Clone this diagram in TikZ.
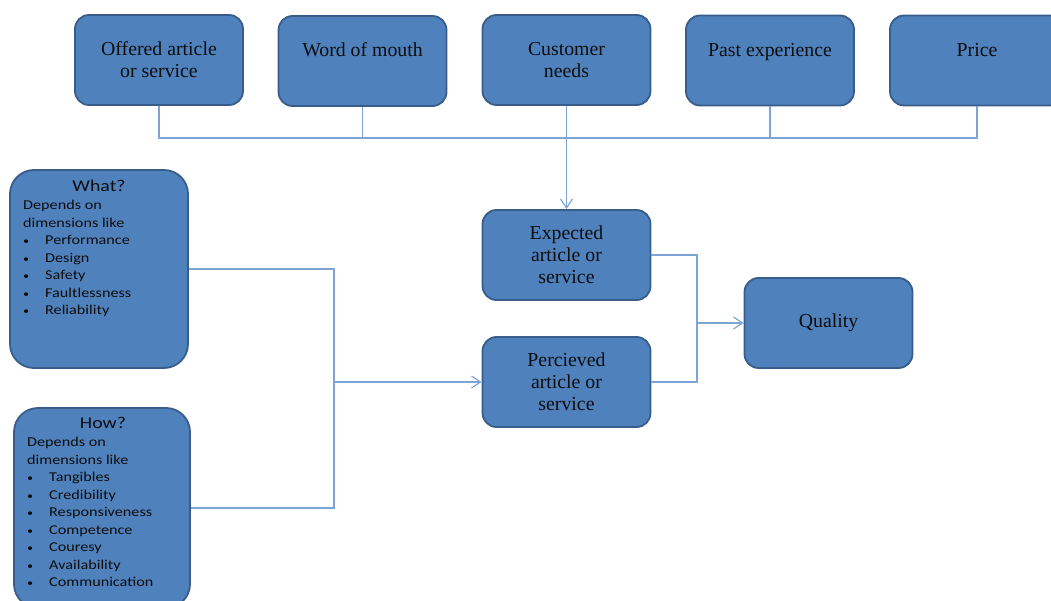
\documentclass[tikz,border=0pt]{standalone}
\usepackage{fontspec}
\setmainfont{Liberation Serif}
\newfontfamily\listfont[FakeStretch=1.2]{Carlito}
\usetikzlibrary{arrows.meta,calc}
\definecolor{boxfill}{HTML}{4F81BD}
\definecolor{boxedge}{HTML}{385D8A}
\definecolor{linkblue}{HTML}{7EA4D6}
\definecolor{ink}{HTML}{0D0D0D}
\tikzset{
  box/.style={draw=boxedge, fill=boxfill, line width=1.8pt, rounded corners=14pt,
    minimum width=168pt, minimum height=90pt, align=center,
    font=\fontsize{19.8}{22}\selectfont, text=ink},
  bigbox/.style={draw=boxedge, fill=boxfill, line width=1.8pt, rounded corners=24pt},
  conn/.style={draw=linkblue, line width=1.2pt},
  arr/.style={conn, -{Straight Barb[length=9pt,width=12pt,line width=1.2pt]}},
  title/.style={font=\listfont\fontsize{16.5}{19}\selectfont, text=ink},
  items/.style={font=\listfont\fontsize{13.5}{17.5}\selectfont, text=ink,
    align=left, inner sep=0pt, anchor=north west}
}
\newcommand{\itm}[1]{\makebox[22pt][l]{\scalebox{0.75}{\textbullet}}#1}
\begin{document}
\begin{tikzpicture}[x=1pt,y=-1pt]
\useasboundingbox (0,0) rectangle (1051,601);
\clip (0,0) rectangle (1051,601);

% top row of influences
\node[box] (offered)  at (159,60)   {Offered article\\or service};
\node[box] (word)     at (362.5,61) {Word of mouth\\\mbox{}};
\node[box] (customer) at (566.5,60) {Customer\\needs};
\node[box] (past)     at (770,60.5) {Past experience\\\mbox{}};
\node[box, minimum width=174pt] (price) at (977,60.5) {Price\\\mbox{}};

% middle column
\node[box] (expected)  at (566.5,255) {Expected\\article or\\service};
\node[box] (perceived) at (566.5,382) {Percieved\\article or\\service};
\node[box] (quality)   at (828.5,323) {Quality};

% left-hand dimension boxes
\node[bigbox, minimum width=178pt, minimum height=198pt] (what) at (99,269) {};
\node[title] (whatT) at (99,186) {What?};
\node[items] (whatL) at (23,200) {Depends on\\dimensions like\\
  \itm{Performance}\\\itm{Design}\\\itm{Safety}\\\itm{Faultlessness}\\\itm{Reliability}};

\node[bigbox, minimum width=176pt, minimum height=200pt] (how) at (102,508) {};
\node[title] (howT) at (103,423) {How?};
\node[items] (howL) at (27,437) {Depends on\\dimensions like\\
  \itm{Tangibles}\\\itm{Credibility}\\\itm{Responsiveness}\\\itm{Competence}\\
  \itm{Couresy}\\\itm{Availability}\\\itm{Communication}};

% bus joining the top row
\coordinate (bus) at (160,138);
\draw[conn] (offered.south) -- (offered.south |- bus) -- (price.south |- bus) -- (price.south);
\draw[conn] (word.south) -- (word.south |- bus);
\draw[conn] (past.south) -- (past.south |- bus);
\draw[arr] (customer.south) -- (expected.north);

% what / how into perceived
\coordinate (jp) at (334,382);
\draw[conn] (what.east) -| (jp);
\draw[conn] (how.east) -| (jp);
\draw[arr] (jp) -- (perceived.west);

% expected / perceived into quality
\coordinate (jq) at (697,323);
\draw[conn] (expected.east) -| (jq);
\draw[conn] (perceived.east) -| (jq);
\draw[arr] (jq) -- (quality.west);
\end{tikzpicture}
\end{document}
